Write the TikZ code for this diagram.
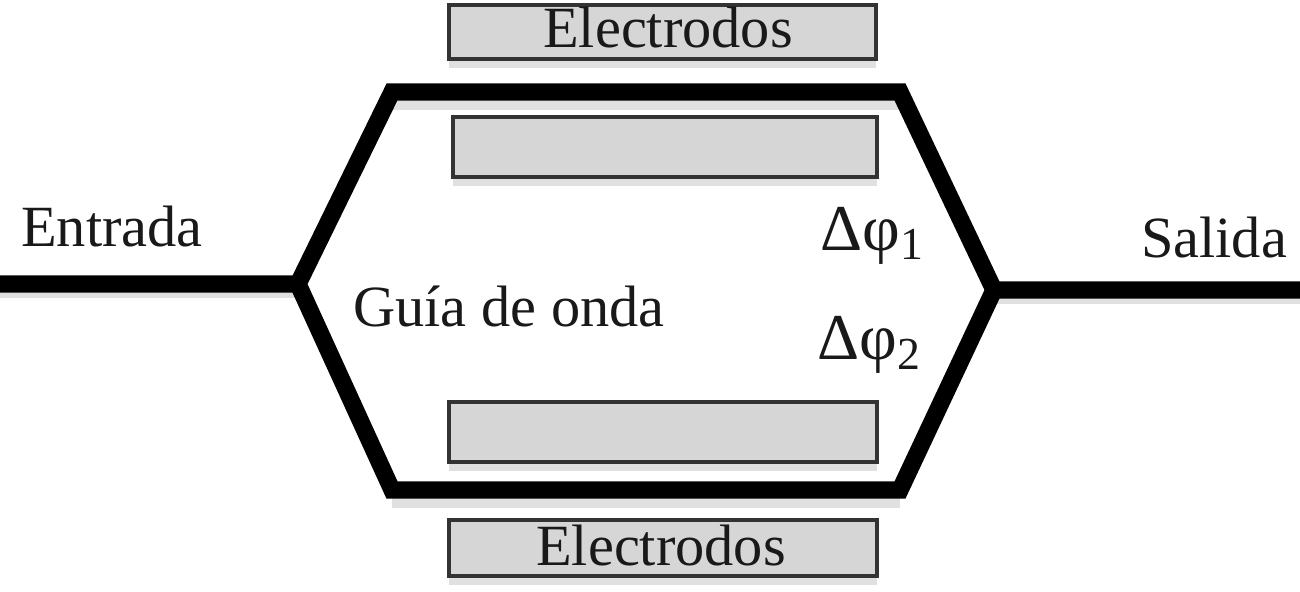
\documentclass[tikz,border=0pt]{standalone}
\usepackage{fontspec}
\setmainfont{Liberation Serif}
\usepackage{tikz}
\usetikzlibrary{shadows}

\begin{document}
\begin{tikzpicture}[
  x=0.01cm, y=-0.01cm,
  electrodo/.style={
    rectangle, draw=black!80, line width=1.1pt,
    fill=black!16, inner sep=0pt,
    copy shadow={shadow xshift=0pt, shadow yshift=-2.6pt, draw=none, fill=black!12}
  },
  etichetta/.style={
    inner sep=0pt, text=black!90,
    font=\fontsize{16.6}{18}\selectfont
  },
  fase/.style={
    inner sep=0pt, text=black!90,
    font=\fontsize{18.6}{20}\selectfont
  },
  guida/.style={line width=4.9pt, black, line join=miter},
  ombra/.style={line width=4.9pt, black!12}
]
\useasboundingbox (0,0) rectangle (1300,592);

% guida di onda
\coordinate (in) at (0,284);
\coordinate (split) at (298,284);
\coordinate (topL) at (392,92);
\coordinate (topR) at (900,92);
\coordinate (merge) at (994,290);
\coordinate (botR) at (900,490);
\coordinate (botL) at (392,490);
\coordinate (out) at (1300,290);

\draw[ombra] ([yshift=-2.6pt]topL) -- ([yshift=-2.6pt]topR);
\draw[ombra] ([yshift=-2.6pt]botL) -- ([yshift=-2.6pt]botR);
\draw[ombra] ([yshift=-1.5pt]in) -- ([yshift=-1.5pt]split);
\draw[ombra] ([yshift=-1.5pt]merge) -- ([yshift=-1.5pt]out);

\draw[guida] (in) -- (split) -- (topL) -- (topR) -- (merge) -- (out);
\draw[guida] (split) -- (botL) -- (botR) -- (merge);

\node[electrodo, minimum width=4.27cm, minimum height=0.54cm] (elec1) at (662.5,32) {};
\node[electrodo, minimum width=4.24cm, minimum height=0.6cm] (elec2) at (665,147) {};
\node[electrodo, minimum width=4.28cm, minimum height=0.6cm] (elec3) at (663,432) {};
\node[electrodo, minimum width=4.28cm, minimum height=0.56cm] (elec4) at (663,548) {};

\node[etichetta] (testo1) at (668,28) {Electrodos};
\node[etichetta] (testo4) at (661,546) {Electrodos};
\node[etichetta] (entrada) at (112,227) {Entrada};
\node[etichetta] (salida) at (1214,238) {Salida};
\node[etichetta] (guia) at (509,306) {Guía de onda};
\node[fase] (fase1) at (873,236) {Δφ\textsubscript{1}};
\node[fase] (fase2) at (870,345) {Δφ\textsubscript{2}};
\end{tikzpicture}
\end{document}
